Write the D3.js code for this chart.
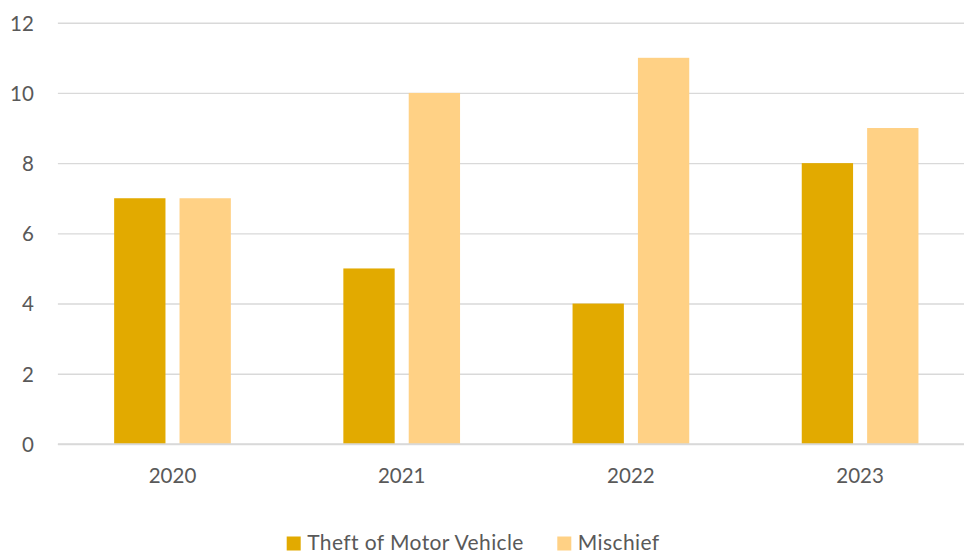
<!DOCTYPE html>
<html><head><meta charset="utf-8">
<script src="https://cdn.jsdelivr.net/npm/d3@7"></script>
<style>body{margin:0;background:#fff}svg{display:block}text{font-family:Lato,"Open Sans",sans-serif;fill:#595959}</style>
</head><body><svg id="c" width="964" height="554"></svg>
<script>
const categories = ["2020","2021","2022","2023"];
const seriesNames = ["Theft of Motor Vehicle","Mischief"];
const theft = [7,5,4,8];
const mischief = [7,10,11,9];
const yTicks = [0,2,4,6,8,10,12];
const colors = ["#E2AA00","#FFD185"];

const svg = d3.select("#c");
const plotLeft = 57.9, plotTop = 22.7, plotBottom = 444;
const step = 229.2;
const x0 = d3.scaleBand().domain(categories).range([plotLeft, plotLeft + step*categories.length])
  .paddingInner(1-116.7/229.2).paddingOuter((1-116.7/229.2)/2);
const x1 = d3.scaleBand().domain(seriesNames).range([0, x0.bandwidth()]).paddingInner(0.215);
const y = d3.scaleLinear().domain([0,12]).range([plotBottom, plotTop]);

// gridlines
const gy = svg.append("g").attr("transform",`translate(${plotLeft},0)`)
  .call(d3.axisLeft(y).tickValues(yTicks).tickSize(-(964-plotLeft)).tickFormat(d3.format("d")).tickPadding(24));
gy.select(".domain").remove();
gy.selectAll(".tick line").attr("stroke","#D9D9D9").attr("stroke-width",1.4);
gy.selectAll(".tick text").attr("font-size",20.5).attr("fill","#595959").attr("dy","0.36em");

const data = categories.map((c,i)=>({cat:c, vals:[theft[i], mischief[i]]}));
const g = svg.append("g");
data.forEach(d=>{
  d.vals.forEach((v,j)=>{
    g.append("rect").attr("x", x0(d.cat)+x1(seriesNames[j])).attr("width", x1.bandwidth())
      .attr("y", y(v)).attr("height", y(0)-y(v)).attr("fill", colors[j]);
  });
});
// redraw zero line on top
svg.append("line").attr("x1",plotLeft).attr("x2",964).attr("y1",y(0)).attr("y2",y(0))
  .attr("stroke","#D9D9D9").attr("stroke-width",1.4);

const gx = svg.append("g").attr("transform",`translate(0,${plotBottom})`)
  .call(d3.axisBottom(x0).tickSize(0).tickPadding(0));
gx.select(".domain").remove();
gx.selectAll(".tick text").attr("font-size",20.5).attr("fill","#595959").attr("y",39.3).attr("dy",null);

// legend
const legX = [286.7, 557.3];
seriesNames.forEach((n,j)=>{
  svg.append("rect").attr("x",legX[j]).attr("y",536.5).attr("width",14).attr("height",14).attr("fill",colors[j]);
  svg.append("text").attr("x",legX[j]+20.5).attr("y",549.5).attr("font-size",21).attr("letter-spacing",0.4).text(n);
});
</script></body></html>
